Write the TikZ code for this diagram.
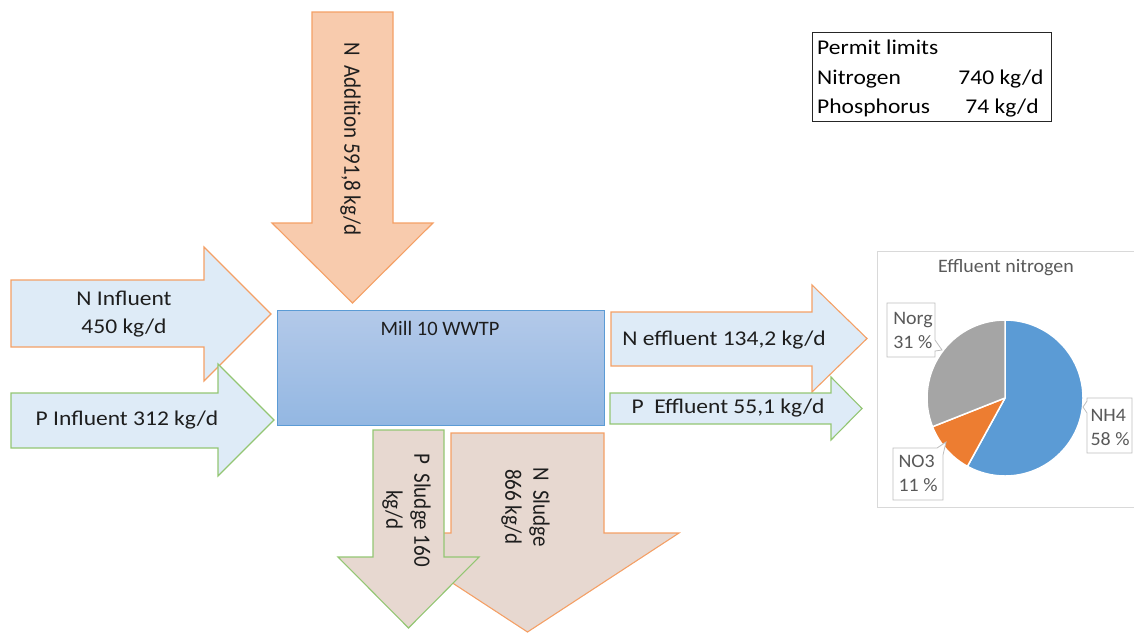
\documentclass[tikz,border=0pt]{standalone}
\usepackage{fontspec}
\setmainfont{Carlito}
\newfontfamily\widefont{Carlito}[FakeStretch=1.12]
\newfontfamily\chartfont{Carlito}[FakeStretch=1.05]
\newcommand\tallstack[1]{\scalebox{1}[1.12]{\begin{tabular}{@{}c@{}}#1\end{tabular}}}
\definecolor{peach}{HTML}{F8CBAD}
\definecolor{paleblue}{HTML}{DEEBF7}
\definecolor{sludge}{HTML}{E7D8D0}
\definecolor{orangeline}{HTML}{F4A066}
\definecolor{greenline}{HTML}{93C673}
\definecolor{boxtop}{HTML}{B3C9E9}
\definecolor{boxbot}{HTML}{93B7E2}
\definecolor{boxline}{HTML}{5B9BD5}
\definecolor{nhfour}{HTML}{5B9BD5}
\definecolor{nothree}{HTML}{ED7D31}
\definecolor{norgcol}{HTML}{A5A5A5}
\definecolor{txt}{HTML}{1E1E1E}
\definecolor{charttxt}{HTML}{595959}
\definecolor{chartframe}{HTML}{D9D9D9}
\definecolor{calloutline}{HTML}{BFBFBF}
\tikzset{
  flow/.style={line width=1.1pt, line join=miter},
  nflow/.style={flow, draw=orangeline},
  pflow/.style={flow, draw=greenline},
  lbl/.style={font=\widefont\fontsize{21}{28}\selectfont, text=txt, inner sep=0pt, align=center},
  vlbl/.style={font=\fontsize{21}{25}\selectfont, text=txt, inner sep=0pt, rotate=-90},
  ptxt/.style={font=\widefont\fontsize{21}{24}\selectfont, text=black, inner sep=0pt},
  pielbl/.style={font=\chartfont\fontsize{19}{24}\selectfont, text=charttxt, inner sep=0pt, align=left},
  callout/.style={draw=calloutline, fill=white, line width=0.8pt},
  slice/.style={draw=white, line width=1.5pt, line join=round},
}
\begin{document}
\begin{tikzpicture}[x=1pt,y=-1pt]
\useasboundingbox (0,0) rectangle (1134,633);

% N addition (top)
\draw[nflow, fill=peach] (312,12) -- (393,12) -- (393,223) -- (433,223) -- (352.5,303) -- (272,223) -- (312,223) -- cycle;
\node[vlbl] (addtxt) at (350,139) {\tallstack{N\ \ Addition 591,8 kg/d}};

% influent arrows
\draw[nflow, fill=paleblue] (11,280) -- (204,280) -- (204,247) -- (271,314) -- (204,381) -- (204,347) -- (11,347) -- cycle;
\node[lbl] (ninf) at (124,314) {N Influent\\450 kg/d};
\draw[pflow, fill=paleblue] (11,393) -- (218,393) -- (218,364) -- (274,420) -- (218,476) -- (218,448) -- (11,448) -- cycle;
\node[lbl] (pinf) at (127,420) {P Influent 312 kg/d};

% plant
\node[draw=boxline, line width=1pt, top color=boxtop, bottom color=boxbot,
      minimum width=327pt, minimum height=115pt, anchor=north west, inner sep=0pt] (plant) at (277,310) {};
\node[lbl, font=\fontsize{20.5}{24}\selectfont] (mill) at (440,328) {Mill 10 WWTP};

% effluent arrows
\draw[nflow, fill=paleblue] (611,312) -- (812,312) -- (812,285) -- (867,338.5) -- (812,392) -- (812,366) -- (611,366) -- cycle;
\node[lbl] (neff) at (724,340) {N effluent 134,2 kg/d};
\draw[pflow, fill=paleblue] (610,393) -- (831,393) -- (831,377) -- (862,408.5) -- (831,440) -- (831,424) -- (610,424) -- cycle;
\node[lbl] (peff) at (728,408) {P\ \ Effluent 55,1 kg/d};

% sludge arrows
\draw[nflow, fill=sludge] (451,433) -- (604,433) -- (604,533) -- (679,533) -- (527.5,632) -- (376,533) -- (451,533) -- cycle;
\node[vlbl] (nsl) at (525,507) {\tallstack{N\ \ Sludge\\866 kg/d}};
\draw[pflow, fill=sludge] (373,430) -- (444,430) -- (444,557) -- (479,557) -- (408.5,628) -- (338,557) -- (373,557) -- cycle;
\node[vlbl] (psl) at (406,510) {\tallstack{P\ \ Sludge 160\\kg/d}};

% permit limits
\node[draw=black!85, line width=1.2pt, minimum width=239pt, minimum height=89pt, anchor=north west, inner sep=0pt] (permit) at (812,32) {};
\node[ptxt, anchor=base west] (plim) at (817,54) {Permit limits};
\node[ptxt, anchor=base west] (pnit) at (817,84) {Nitrogen};
\node[ptxt, anchor=base] (pnitv) at (1001,84) {740 kg/d};
\node[ptxt, anchor=base west] (pphos) at (817,113) {Phosphorus};
\node[ptxt, anchor=base] (pphosv) at (1002,113) {74 kg/d};

% chart frame and title
\draw[chartframe, line width=1pt] (1134,251) -- (877,251) -- (877,507) -- (1134,507);
\node[pielbl] (ctitle) at (1006,268) {Effluent nitrogen};

% pie
\begin{scope}[shift={(1005,398)}]
  \filldraw[slice, fill=nhfour] (0pt,0pt) -- (90:78pt) arc[start angle=90, end angle=-118.8, radius=78pt] -- cycle;
  \filldraw[slice, fill=nothree] (0pt,0pt) -- (-118.8:78pt) arc[start angle=-118.8, end angle=-158.4, radius=78pt] -- cycle;
  \filldraw[slice, fill=norgcol] (0pt,0pt) -- (-158.4:78pt) arc[start angle=-158.4, end angle=-270, radius=78pt] -- cycle;
\end{scope}

% data labels
\draw[callout] (887,303) -- (935,303) -- (935,340) -- (942,350) -- (935,351) -- (935,357) -- (887,357) -- cycle;
\node[pielbl] (lnorg) at (913,330) {Norg\\31 \%};
\draw[callout] (893,448) -- (937,448) -- (946,442) -- (943,455) -- (943,500) -- (893,500) -- cycle;
\node[pielbl] (lno3) at (918,473) {NO3\\11 \%};
\draw[callout] (1087,398) -- (1132,398) -- (1132,453) -- (1087,453) -- (1087,413) -- (1083,407) -- (1087,401) -- cycle;
\node[pielbl] (lnh4) at (1110,427) {NH4\\58 \%};
\end{tikzpicture}
\end{document}
